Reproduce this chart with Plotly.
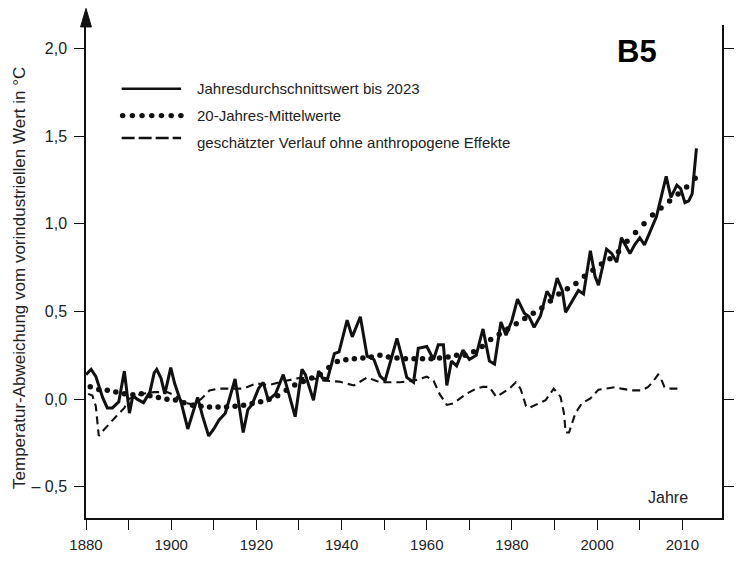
import plotly.graph_objects as go

# ---------------- data ----------------
annual_years = [1880.0, 1881.2, 1882.3, 1883.9, 1885.0, 1886.2, 1887.7, 1889.0, 1890.2, 1891.0,
                1892.0, 1893.5, 1895.0, 1896.0, 1896.6, 1897.6, 1898.5, 1899.9, 1900.8, 1902.4,
                1903.9, 1905.1, 1906.2, 1907.4, 1908.8, 1910.0, 1911.2, 1912.7, 1915.0, 1916.9,
                1918.0, 1919.0, 1920.5, 1921.6, 1922.8, 1924.5, 1926.3, 1927.4, 1929.1, 1930.7,
                1931.5, 1933.4, 1934.6, 1935.5, 1936.7, 1938.3, 1939.4, 1941.3, 1942.5, 1944.4,
                1946.0, 1947.6, 1949.0, 1950.2, 1951.8, 1953.0, 1954.2, 1955.3, 1956.9, 1958.0,
                1960.0, 1961.6, 1962.7, 1963.9, 1964.7, 1965.8, 1967.0, 1968.5, 1970.0, 1971.6,
                1972.7, 1973.2, 1974.7, 1975.9, 1977.4, 1978.6, 1980.0, 1981.3, 1982.9, 1984.0,
                1985.2, 1986.7, 1988.2, 1989.4, 1990.6, 1991.8, 1992.6, 1994.0, 1995.6, 1996.8,
                1998.4, 1999.5, 2000.3, 2002.2, 2003.4, 2004.6, 2005.7, 2007.7, 2008.8, 2010.0,
                2011.1, 2013.9, 2016.2, 2017.3, 2018.7, 2019.6, 2020.6, 2021.5, 2022.3, 2023.3]
annual_values = [0.14, 0.17, 0.13, 0.01, -0.05, -0.05, -0.015, 0.16, -0.08, 0.02,
                 0.0, -0.02, 0.04, 0.15, 0.17, 0.12, 0.03, 0.18, 0.09, -0.025,
                 -0.17, -0.08, 0.01, -0.10, -0.21, -0.17, -0.12, -0.08, 0.115, -0.19,
                 -0.06, -0.03, 0.06, 0.096, -0.006, 0.03, 0.14, 0.05, -0.10, 0.17,
                 0.14, -0.006, 0.16, 0.12, 0.115, 0.26, 0.27, 0.45, 0.355, 0.47,
                 0.245, 0.226, 0.133, 0.105, 0.245, 0.346, 0.235, 0.124, 0.096, 0.29,
                 0.30, 0.226, 0.31, 0.31, 0.078, 0.217, 0.19, 0.28, 0.226, 0.25,
                 0.355, 0.40, 0.217, 0.20, 0.44, 0.365, 0.45, 0.57, 0.49, 0.47,
                 0.41, 0.476, 0.615, 0.57, 0.69, 0.62, 0.495, 0.55, 0.62, 0.60,
                 0.846, 0.70, 0.65, 0.855, 0.83, 0.78, 0.92, 0.83, 0.88, 0.92,
                 0.88, 1.04, 1.27, 1.15, 1.22, 1.20, 1.12, 1.13, 1.17, 1.43]

mean_years = list(range(1881, 2024, 2))
mean_values = [0.07, 0.055, 0.05, 0.04, 0.03, 0.025, 0.03, 0.02, 0.01, 0.0,
               -0.005, -0.02, -0.035, -0.04, -0.045, -0.045, -0.045, -0.04, -0.035, -0.025,
               -0.015, 0.0, 0.02, 0.05, 0.08, 0.10, 0.12, 0.14, 0.18, 0.215,
               0.225, 0.23, 0.235, 0.24, 0.25, 0.24, 0.235, 0.23, 0.23, 0.23,
               0.23, 0.235, 0.24, 0.25, 0.25, 0.27, 0.30, 0.34, 0.37, 0.40,
               0.43, 0.46, 0.49, 0.52, 0.56, 0.60, 0.63, 0.66, 0.70, 0.735,
               0.77, 0.80, 0.84, 0.90, 0.95, 1.00, 1.05, 1.09, 1.13, 1.17,
               1.21, 1.26]

natural_years = [1880.5, 1881.5, 1882.3, 1883.0, 1884.0, 1885.8, 1887.4, 1889.0, 1890.0, 1893.0,
                 1896.0, 1899.0, 1901.0, 1903.0, 1905.0, 1907.0, 1909.0, 1911.0, 1914.0, 1917.0,
                 1920.0, 1923.0, 1926.0, 1930.0, 1933.0, 1936.0, 1939.4, 1941.0, 1942.9, 1946.0,
                 1947.6, 1949.0, 1953.7, 1956.9, 1960.0, 1961.6, 1963.0, 1964.7, 1966.2, 1969.3,
                 1971.6, 1973.2, 1974.7, 1976.3, 1979.4, 1980.9, 1982.0, 1983.3, 1984.0, 1986.3,
                 1987.9, 1989.8, 1991.4, 1992.2, 1992.6, 1993.4, 1994.1, 1994.9, 1996.4, 1998.4,
                 2000.3, 2001.9, 2004.2, 2005.7, 2008.1, 2010.4, 2011.9, 2013.1, 2014.3, 2015.0,
                 2015.8, 2017.3, 2020.0]
natural_values = [0.03, 0.02, -0.04, -0.21, -0.18, -0.13, -0.09, -0.05, 0.0, 0.03,
                  0.04, 0.04, 0.02, -0.02, -0.03, 0.0, 0.05, 0.06, 0.06, 0.06,
                  0.09, 0.08, 0.10, 0.12, 0.12, 0.105, 0.10, 0.09, 0.078, 0.124,
                  0.11, 0.096, 0.096, 0.105, 0.128, 0.105, 0.03, -0.033, -0.024, 0.03,
                  0.06, 0.07, 0.07, 0.013, 0.06, 0.096, 0.06, -0.04, -0.05, -0.024,
                  -0.006, 0.06, 0.013, -0.08, -0.19, -0.19, -0.135, -0.08, -0.024, 0.004,
                  0.054, 0.06, 0.068, 0.06, 0.05, 0.05, 0.068, 0.10, 0.14, 0.115,
                  0.068, 0.06, 0.06]

y_tick_values = [2.0, 1.5, 1.0, 0.5, 0.0, -0.5]
y_tick_labels = ["2,0", "1,5", "1,0", "0,5", "0,0", "– 0,5"]
x_tick_values = list(range(1880, 2021, 10))
x_tick_labels = ["1880", "", "1900", "", "1920", "", "1940", "", "1960", "", "1980", "",
                 "2000", "", "2010"]

series_names = ["Jahresdurchschnittswert bis 2023", "20-Jahres-Mittelwerte",
                "geschätzter Verlauf ohne anthropogene Effekte"]
y_title = "Temperatur-Abweichung vom vorindustriellen Wert in °C"
x_title = "Jahre"
panel_label = "B5"

# ---------------- layout geometry ----------------
W, H = 746, 565
L, R, T, B = 86, 18, 25, 34
PW, PH = W - L - R, H - T - B
FONT = "Liberation Sans Narrow, Arial Narrow, Liberation Sans, Arial, sans-serif"
INK = "#111111"


def px(xp):
    return (xp - L) / PW


def py(yp):
    return (H - B - yp) / PH


fig = go.Figure()
fig.add_trace(go.Scatter(x=natural_years, y=natural_values, mode="lines", name=series_names[2],
                         line=dict(color=INK, width=2.1, dash="8px,5px"), showlegend=False,
                         hoverinfo="skip"))
fig.add_trace(go.Scatter(x=mean_years, y=mean_values, mode="markers", name=series_names[1],
                         marker=dict(color=INK, size=5.5), showlegend=False, hoverinfo="skip"))
fig.add_trace(go.Scatter(x=annual_years, y=annual_values, mode="lines", name=series_names[0],
                         line=dict(color=INK, width=3), showlegend=False, hoverinfo="skip"))

shapes = []
# arrow head on top of the y axis
shapes.append(dict(type="path", xref="paper", yref="paper",
                   path=f"M {px(80.5)} {py(27)} L {px(91.5)} {py(27)} L {px(86)} {py(8)} Z",
                   fillcolor=INK, line=dict(color=INK, width=1)))
shapes.append(dict(type="line", xref="paper", yref="paper", x0=0, x1=0, y0=1, y1=py(20),
                   line=dict(color=INK, width=1.5)))
# legend samples
leg_y = [90.5, 118, 141]
shapes.append(dict(type="line", xref="paper", yref="paper", x0=px(122), x1=px(182),
                   y0=py(leg_y[0]), y1=py(leg_y[0]), line=dict(color=INK, width=2.6)))
for i in range(7):
    cx = 123 + i * 9.8
    shapes.append(dict(type="circle", xref="paper", yref="paper",
                       x0=px(cx - 2.8), x1=px(cx + 2.8), y0=py(leg_y[1] + 2.8), y1=py(leg_y[1] - 2.8),
                       fillcolor=INK, line=dict(width=0)))
shapes.append(dict(type="line", xref="paper", yref="paper", x0=px(122), x1=px(182),
                   y0=py(leg_y[2]), y1=py(leg_y[2]),
                   line=dict(color=INK, width=2.4, dash="13px,4px")))

annotations = []
text_y = [90, 118, 146]
for name, ty in zip(series_names, text_y):
    annotations.append(dict(text=name, xref="paper", yref="paper", x=px(196), y=py(ty),
                            xanchor="left", yanchor="middle", showarrow=False,
                            font=dict(family=FONT, size=15, color="#222")))
annotations.append(dict(text=y_title, xref="paper", yref="paper", x=px(19), y=py(285),
                        xanchor="center", yanchor="middle", textangle=-90, showarrow=False,
                        font=dict(family=FONT, size=17, color="#222")))
annotations.append(dict(text=x_title, xref="paper", yref="paper", x=px(673), y=py(510),
                        xanchor="center", yanchor="middle", showarrow=False,
                        font=dict(family=FONT, size=16, color="#222")))
annotations.append(dict(text=f"<b>{panel_label}</b>", xref="paper", yref="paper", x=px(642), y=py(52),
                        xanchor="center", yanchor="middle", showarrow=False,
                        font=dict(family="Liberation Sans, Arial, sans-serif", size=31, color="#000")))

fig.update_layout(
    width=W, height=H,
    margin=dict(l=L, r=R, t=T, b=B, pad=0),
    paper_bgcolor="white", plot_bgcolor="white",
    showlegend=False, hovermode=False,
    shapes=shapes, annotations=annotations,
    font=dict(family=FONT, size=15, color="#222"),
    xaxis=dict(range=[1880, 1880 + PW / 4.3], showline=True, linecolor=INK, linewidth=1.5,
               ticks="outside", ticklen=10, tickwidth=1.3, tickcolor=INK,
               tickvals=x_tick_values, ticktext=x_tick_labels, showgrid=False, zeroline=False,
               ticklabelstandoff=2,
               tickfont=dict(family=FONT, size=15, color="#222")),
    yaxis=dict(range=[-(H - B - 409) / 180, (409 - T) / 180], showline=True, linecolor=INK,
               linewidth=1.5, mirror="ticks",
               ticks="outside", ticklen=10, tickwidth=1.3, tickcolor=INK,
               tickvals=y_tick_values, ticktext=y_tick_labels, showgrid=False, zeroline=False,
               ticklabelstandoff=4,
               tickfont=dict(family=FONT, size=16, color="#222")),
)

fig.write_html(
    "out.html",
    config={"displayModeBar": False},
    post_script="document.body.style.margin='0px';",
)
